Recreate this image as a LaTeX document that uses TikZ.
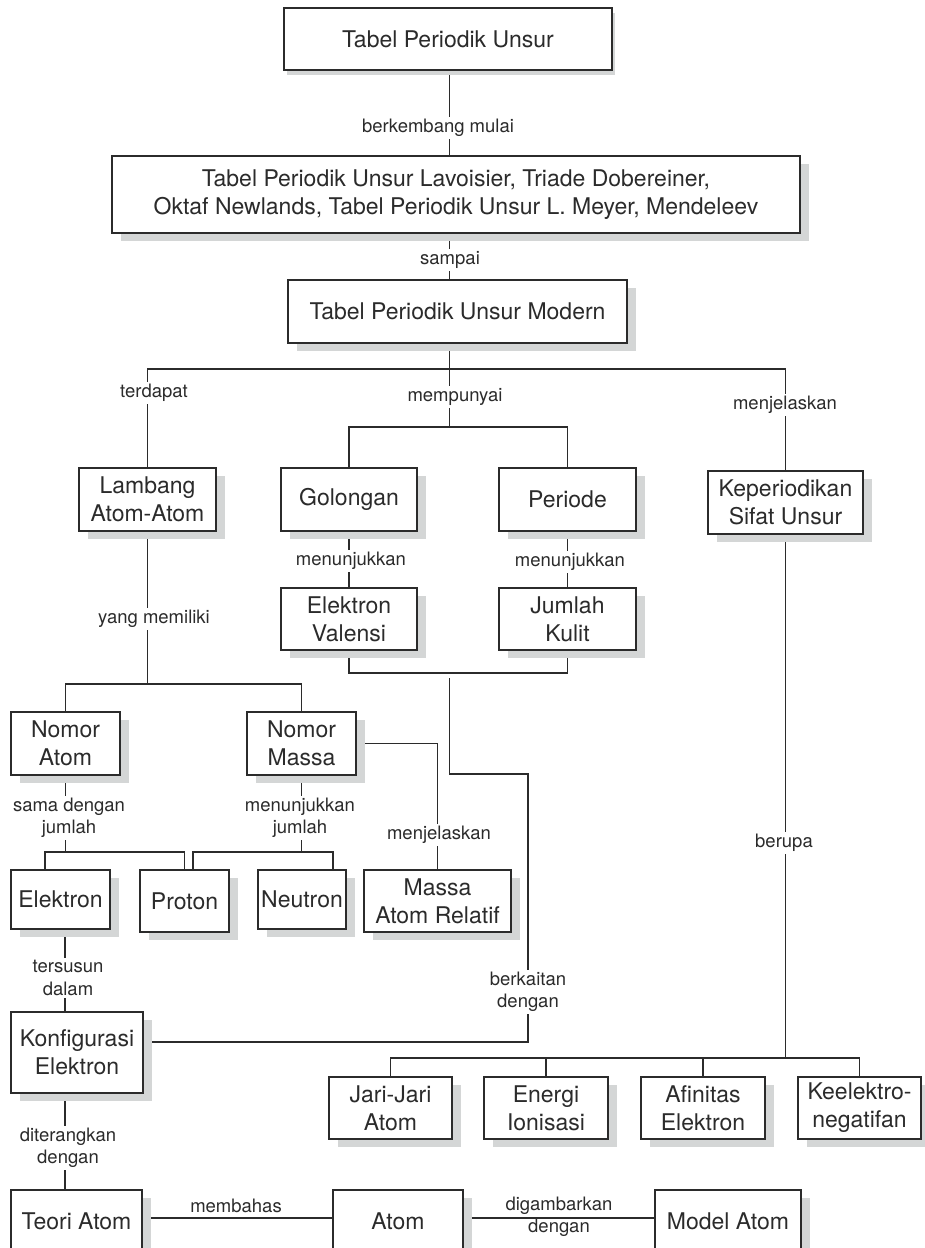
\documentclass[tikz,border=0pt]{standalone}
\usepackage{fontspec}
\setmainfont{TeX Gyre Heros}
\usetikzlibrary{shadows,backgrounds}
\definecolor{shgrey}{HTML}{D4D6D6}
\definecolor{ink}{HTML}{2B2B2B}
\begin{document}
\begin{tikzpicture}[x=1pt,y=-1pt,
  boxbase/.style={draw=ink, line width=1.4pt, fill=white, inner sep=0pt, align=center,
    text=ink, font=\fontsize{23}{28}\selectfont},
  box/.style 2 args={boxbase, minimum width=#1, minimum height=#2,
    drop shadow={shadow xshift=9pt, shadow yshift=-8pt, fill=shgrey, opacity=1}},
  lbl/.style={fill=white, inner sep=2pt, align=center, text=ink,
    font=\fontsize{18.5}{22.5}\selectfont},
  conn/.style={draw=ink, line width=1.3pt}]
\useasboundingbox (0,0) rectangle (925,1248);

% concept boxes
\node[boxbase, minimum width=328pt, minimum height=62pt,
  drop shadow={shadow xshift=3pt, shadow yshift=-5pt, fill=shgrey, opacity=1}]
  (t1) at (448,39) {Tabel Periodik Unsur};
\node[box={688pt}{77pt}] (t2) at (456,194.5)
  {Tabel Periodik Unsur Lavoisier, Triade Dobereiner,\\Oktaf Newlands, Tabel Periodik Unsur L. Meyer, Mendeleev};
\node[box={339pt}{63pt}] (t3) at (457.5,311.5) {Tabel Periodik Unsur Modern};
\node[box={137pt}{63pt}] (lam) at (147.5,499.5) {Lambang\\Atom-Atom};
\node[box={136pt}{63pt}] (gol) at (349,499.5) {Golongan};
\node[box={137pt}{63pt}] (per) at (567.5,499.5) {Periode};
\node[box={155pt}{63pt}] (kep) at (785.5,502.5) {Keperiodikan\\Sifat Unsur};
\node[box={136pt}{62pt}] (ev) at (349,619) {Elektron\\Valensi};
\node[box={137pt}{62pt}] (jk) at (567.5,619) {Jumlah\\Kulit};
\node[box={109pt}{63pt}] (na) at (65.5,743.5) {Nomor\\Atom};
\node[box={109pt}{63pt}] (nm) at (301.5,743.5) {Nomor\\Massa};
\node[box={99pt}{59pt}] (el) at (60.5,899.5) {Elektron};
\node[box={89pt}{62pt}] (pr) at (184.5,901) {Proton};
\node[box={88pt}{59pt}] (ne) at (302,899.5) {Neutron};
\node[box={147pt}{62pt}] (mar) at (437.5,901) {Massa\\Atom Relatif};
\node[box={132pt}{81pt}] (kon) at (77,1052.5) {Konfigurasi\\Elektron};
\node[box={123pt}{62pt}] (jj) at (390.5,1108) {Jari-Jari\\Atom};
\node[box={124pt}{62pt}] (en) at (546,1108) {Energi\\Ionisasi};
\node[box={124pt}{62pt}] (af) at (703,1108) {Afinitas\\Elektron};
\node[box={123pt}{62pt}] (ke) at (859.5,1108) {Keelektro-\\negatifan};
\node[box={131pt}{62pt}] (ta) at (76.5,1221) {Teori Atom};
\node[box={130pt}{62pt}] (at) at (398,1221) {Atom};
\node[box={146pt}{62pt}] (ma) at (728,1221) {Model Atom};

% branch points
\coordinate (m0) at (449.5,369);
\coordinate (m1) at (449.5,427);
\coordinate (m2) at (449.5,673);
\coordinate (m3) at (449.5,678);
\coordinate (m4) at (528,774);
\coordinate (m5) at (528,1042);
\coordinate (a0) at (147.5,684);
\coordinate (a1) at (45,852);
\coordinate (a2) at (193,852);
\coordinate (a3) at (333,852);
\coordinate (k0) at (785.5,1058);
\coordinate (e0) at (65,0);
\coordinate (r0) at (0,1218);

% connectors
\begin{pgfonlayer}{background}
\draw[conn] (m0 |- t1.south) -- (m0 |- t2.north);
\draw[conn] (m0 |- t2.south) -- (m0 |- t3.north);
\draw[conn] (m0 |- t3.south) -- (m0);
\draw[conn] (m0) -- (m1);
\draw[conn] (lam.north) |- (m0) -| (kep.north);
\draw[conn] (gol.north) |- (m1) -| (per.north);
\draw[conn] (gol.south) -- (ev.north);
\draw[conn] (per.south) -- (jk.north);
\draw[conn] (ev.south) |- (m2) -| (jk.south);
\draw[conn] (m3) |- (m4) -- (m5) -- (kon.east |- m5);
\draw[conn] (lam.south) -- (a0);
\draw[conn] (na.north) |- (a0) -| (nm.north);
\draw[conn] (na.south) -- (na.south |- a1);
\draw[conn] (el.north -| a1) |- (pr.north |- a1) -- (pr.north);
\draw[conn] (nm.south) -- (nm.south |- a2);
\draw[conn] (pr.north -| a2) |- (a3) -- (ne.north -| a3);
\draw[conn] (nm.east) -| (mar.north);
\draw[conn] (kep.south) -- (k0);
\draw[conn] (jj.north) |- (k0) -| (ke.north);
\draw[conn] (en.north) -- (en.north |- k0);
\draw[conn] (af.north) -- (af.north |- k0);
\draw[conn] (el.south -| e0) -- (kon.north -| e0);
\draw[conn] (kon.south -| e0) -- (ta.north -| e0);
\draw[conn] (ta.east |- r0) -- (at.west |- r0);
\draw[conn] (at.east |- r0) -- (ma.west |- r0);
\end{pgfonlayer}

% connector labels
\node[lbl] (l1) at (438,128) {berkembang mulai};
\node[lbl] (l2) at (450,260) {sampai};
\node[lbl] (l3) at (154,393) {terdapat};
\node[lbl] (l4) at (455,397) {mempunyai};
\node[lbl] (l5) at (785,405) {menjelaskan};
\node[lbl] (l6) at (351,561) {menunjukkan};
\node[lbl] (l7) at (570,562) {menunjukkan};
\node[lbl] (l8) at (154,619) {yang memiliki};
\node[lbl] (l9) at (69,818) {sama dengan\\jumlah};
\node[lbl] (l10) at (300,818) {menunjukkan\\jumlah};
\node[lbl] (l11) at (439,835) {menjelaskan};
\node[lbl] (l12) at (784,843) {berupa};
\node[lbl] (l13) at (528,992) {berkaitan\\dengan};
\node[lbl] (l14) at (68,978) {tersusun\\dalam};
\node[lbl] (l15) at (68,1148) {diterangkan\\dengan};
\node[lbl, fill=none] (l16) at (236,1206) {membahas};
\node[lbl, fill=none, font=\fontsize{18.5}{22}\selectfont] (l17) at (559,1217) {digambarkan\\dengan};
\end{tikzpicture}
\end{document}
